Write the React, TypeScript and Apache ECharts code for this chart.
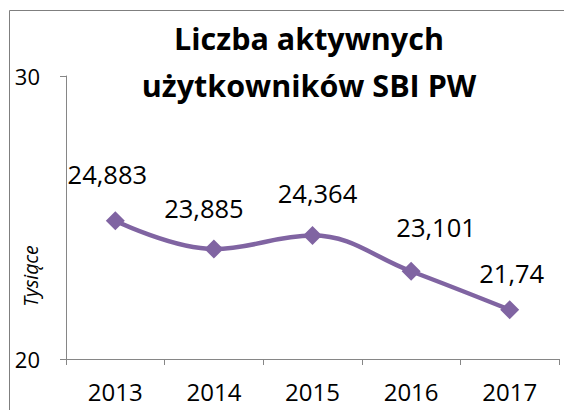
import React, { useEffect, useRef } from "react";
import * as echarts from "echarts";

const categories = ["2013", "2014", "2015", "2016", "2017"];
const values = [24.883, 23.885, 24.364, 23.101, 21.74];
const labelTexts = ["24,883", "23,885", "24,364", "23,101", "21,74"];
const yTicks = [20, 30];
const titleLines = ["Liczba aktywnych", "użytkowników SBI PW"];
const yName = "Tysiące";
const labelOffsets = [
  [-8, -47],
  [-10, -41],
  [5, -42],
  [25, -44],
  [2, -37],
];

const FONT = "'Open Sans', 'Noto Sans', sans-serif";

export default function App() {
  const ref = useRef<HTMLDivElement>(null);
  useEffect(() => {
    document.body.style.margin = "0";
    const chart = echarts.init(ref.current!, null, { renderer: "svg" });
    chart.setOption({
      animation: false,
      backgroundColor: "#ffffff",
      grid: { left: 66, top: 76, right: 5, bottom: 51, containLabel: false },
      graphic: [
        {
          type: "rect",
          shape: { x: 9.5, y: 10.5, width: 700, height: 600 },
          style: { fill: "none", stroke: "#7f7f7f", lineWidth: 1 },
          silent: true,
        },
        {
          type: "text",
          x: 309,
          y: 38,
          style: {
            text: titleLines[0],
            fontFamily: FONT,
            fontWeight: "bold",
            fontSize: 30.5,
            fill: "#000",
            textAlign: "center",
            textVerticalAlign: "middle",
          },
        },
        {
          type: "text",
          x: 309,
          y: 85,
          style: {
            text: titleLines[1],
            fontFamily: FONT,
            fontWeight: "bold",
            fontSize: 30.5,
            fill: "#000",
            textAlign: "center",
            textVerticalAlign: "middle",
          },
        },
        {
          type: "text",
          x: 30,
          y: 276,
          rotation: Math.PI / 2,
          style: {
            text: yName,
            fontFamily: FONT,
            fontStyle: "italic",
            fontSize: 19.5,
            fill: "#000",
            textAlign: "center",
            textVerticalAlign: "middle",
          },
        },
      ],
      xAxis: {
        type: "category",
        data: categories,
        boundaryGap: true,
        axisLine: { lineStyle: { color: "#868686", width: 1 } },
        axisTick: { show: true, length: 6, lineStyle: { color: "#868686" } },
        axisLabel: { color: "#000", fontSize: 24, fontFamily: FONT, margin: 20 },
        splitLine: { show: false },
      },
      yAxis: {
        type: "value",
        min: yTicks[0],
        max: yTicks[1],
        interval: yTicks[1] - yTicks[0],
        axisLine: { show: true, lineStyle: { color: "#868686", width: 1 } },
        axisTick: { show: true, length: 6, lineStyle: { color: "#868686" } },
        axisLabel: { color: "#000", fontSize: 22, fontFamily: FONT, margin: 26 },
        splitLine: { show: false },
      },
      series: [
        {
          type: "line",
          smooth: 0.4,
          data: values.map((v, i) => ({
            value: v,
            label: { offset: labelOffsets[i] },
          })),
          symbol: "diamond",
          symbolSize: 19,
          lineStyle: { color: "#8064A2", width: 4.5 },
          itemStyle: { color: "#8064A2" },
          label: {
            show: true,
            position: "inside",
            fontFamily: FONT,
            fontSize: 25.5,
            color: "#000",
            formatter: (p: any) => labelTexts[p.dataIndex],
          },
        },
      ],
    });
    return () => chart.dispose();
  }, []);
  return <div ref={ref} style={{ width: 564, height: 410 }} />;
}
